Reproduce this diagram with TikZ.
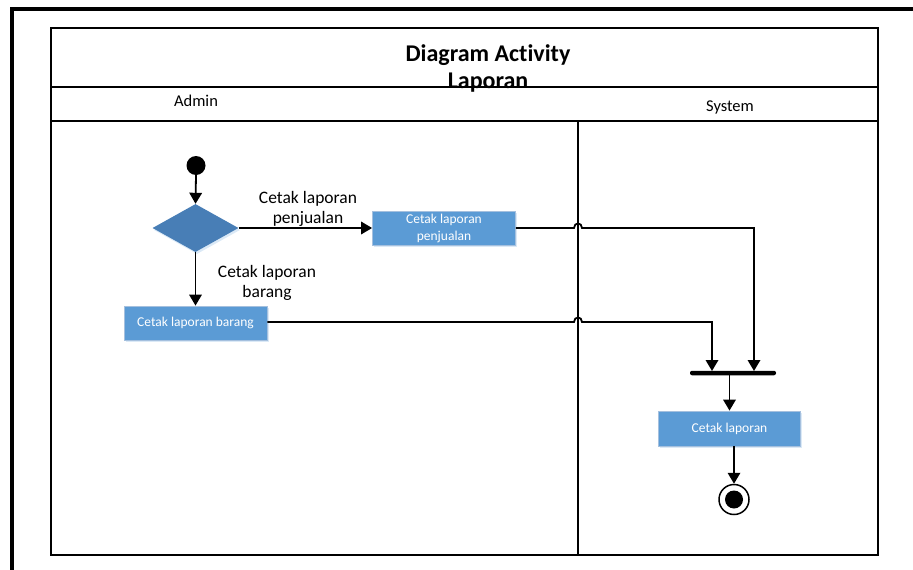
\documentclass[tikz,border=0pt]{standalone}
\usepackage{fontspec}
\setmainfont{Carlito}[Ligatures=NoCommon]
\usetikzlibrary{arrows.meta,shadows,shapes.geometric}

\definecolor{actfill}{RGB}{91,155,213}
\definecolor{actedge}{RGB}{165,192,222}
\definecolor{decfill}{RGB}{72,126,182}

\begin{document}
\begin{tikzpicture}[x=1pt,y=-1pt,
  frameline/.style={line width=4pt, line join=miter},
  laneline/.style={line width=1.7pt},
  softshadow/.style={drop shadow={shadow xshift=1.5pt, shadow yshift=-2pt, opacity=0.22, fill=actfill}},
  action/.style={rectangle, fill=actfill, draw=actedge, line width=0.8pt,
    text=white, align=center, inner sep=0pt, softshadow,
    font=\fontsize{13.5}{17}\selectfont},
  decision/.style={diamond, fill=decfill, draw=none, inner sep=0pt,
    minimum width=86pt, minimum height=48pt, softshadow},
  flow/.style={line width=1.8pt, -{Triangle[width=12.5pt,length=11pt]}},
  guard/.style={align=center, font=\fontsize{17.5}{20}\selectfont},
  lanelabel/.style={anchor=base, font=\fontsize{16.5}{18}\selectfont},
  titletext/.style={anchor=base, font=\bfseries\fontsize{24}{27}\selectfont}
]
\useasboundingbox (0,0) rectangle (913,570);

% page frame
\draw[frameline] (12,570) -- (12,9) -- (913,9);

% swimlane frame, title band and lane header
\draw[laneline] (51,28) rectangle (878,555);
\draw[laneline] (51,87) -- (878,87);
\draw[laneline] (51,121) -- (878,121);
\draw[line width=1.4pt] (578,121) -- (578,555);

\node[titletext] (title1) at (488,61) {Diagram Activity};
\node[titletext] (title2) at (488,88) {Laporan};
\node[lanelabel] (admin) at (196,106.5) {Admin};
\node[lanelabel] (system) at (730,111) {System};

% nodes
\node[circle, fill=black, inner sep=0pt, minimum size=19pt] (start) at (196,165.5) {};
\node[decision] (dec) at (195.5,228) {};
\node[action, minimum width=143pt, minimum height=34pt] (pj) at (444,228) {Cetak laporan\\penjualan};
\node[action, minimum width=143pt, minimum height=34pt] (br) at (195.5,323) {Cetak laporan barang};
\node[rectangle, fill=black, rounded corners=2pt, inner sep=0pt,
      minimum width=86pt, minimum height=4.5pt] (fork) at (733,373) {};
\node[action, minimum width=142pt, minimum height=35pt] (act) at (729.5,428.5) {Cetak laporan};
\node[circle, draw=black, line width=1.5pt, fill=white, inner sep=0pt, minimum size=30pt] (endo) at (734,499.5) {};
\node[circle, fill=black, inner sep=0pt, minimum size=18pt] (endi) at (endo.center) {};

% guard labels
\node[guard] (gpj) at (308,209) {Cetak laporan\\penjualan};
\node[guard] (gbr) at (267,283) {Cetak laporan\\barang};

% line-jump points where the flows cross the lane divider
\coordinate (jpa) at (574,228);
\coordinate (jpb) at (582,228);
\coordinate (jba) at (574,322);
\coordinate (jbb) at (582,322);
\coordinate (forkR) at (754,371);
\coordinate (forkL) at (712,371);

% connectors
\draw[flow] (start.south) -- (dec.north);
\draw[flow] (dec.east) -- (pj.west);
\draw[flow] (dec.south) -- (br.north);
\draw[flow] (pj.east) -- (jpa) .. controls (574,222) and (582,222) .. (jpb) -- (jpb -| forkR) -- (forkR);
\draw[flow] (br.east |- jba) -- (jba) .. controls (574,316) and (582,316) .. (jbb) -- (jbb -| forkL) -- (forkL);
\draw[flow] (fork.south -| act.north) -- (act.north);
\draw[flow] (act.south -| endo.north) -- (endo.north);
\end{tikzpicture}
\end{document}
